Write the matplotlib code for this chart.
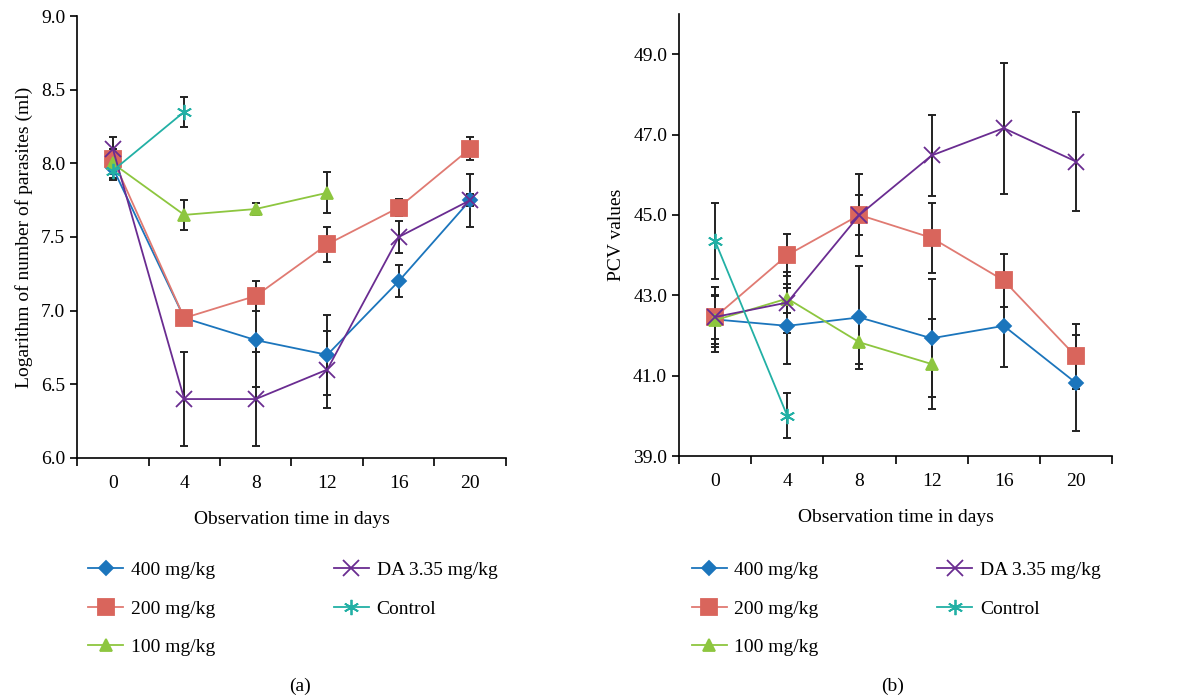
import matplotlib.pyplot as plt
import numpy as np

days = ["0", "4", "8", "12", "16", "20"]
labels = ["400 mg/kg", "200 mg/kg", "100 mg/kg", "DA 3.35 mg/kg", "Control"]

# (a) log parasite counts, mean and error
par_400 = [7.97, 6.95, 6.80, 6.70, 7.20, 7.75]
par_400_err = [0.07, 0.04, 0.32, 0.27, 0.11, 0.04]
par_200 = [8.03, 6.95, 7.10, 7.45, 7.70, 8.10]
par_200_err = [0.07, 0.04, 0.10, 0.12, 0.06, 0.08]
par_100 = [8.00, 7.65, 7.69, 7.80]
par_100_err = [0.07, 0.10, 0.04, 0.14]
par_da = [8.10, 6.40, 6.40, 6.60, 7.50, 7.75]
par_da_err = [0.08, 0.32, 0.32, 0.26, 0.11, 0.18]
par_ctrl = [7.95, 8.35]
par_ctrl_err = [0.06, 0.10]

# (b) PCV values, mean and error
pcv_400 = [42.40, 42.24, 42.45, 41.93, 42.24, 40.82]
pcv_400_err = [0.80, 0.95, 1.29, 1.47, 1.03, 1.20]
pcv_200 = [42.46, 44.00, 45.00, 44.43, 43.37, 41.48]
pcv_200_err = [0.75, 0.52, 1.03, 0.87, 0.66, 0.80]
pcv_100 = [42.38, 42.92, 41.83, 41.29]
pcv_100_err = [0.60, 0.37, 0.55, 1.12]
pcv_da = [42.46, 42.82, 45.00, 46.48, 47.16, 46.33]
pcv_da_err = [0.55, 0.77, 0.50, 1.00, 1.63, 1.23]
pcv_ctrl = [44.35, 40.00]
pcv_ctrl_err = [0.94, 0.56]

colors = ["#1b75bc", "#e07a72", "#8dc63f", "#6a2c91", "#22b0a5"]
mcolors = ["#1b75bc", "#d9655c", "#8dc63f", "#6a2c91", "#22b0a5"]
markers = ["D", "s", "^", "x", (6, 2, 0)]
msizes = [7, 11, 9, 11, 11]

plt.rcParams['font.family'] = ['Liberation Serif', 'DejaVu Serif']
plt.rcParams['font.size'] = 14

fig = plt.figure(figsize=(11.83, 6.99), dpi=100)
ax1 = fig.add_axes([0.0651, 0.3448, 0.3626, 0.6323])
ax2 = fig.add_axes([0.574, 0.3476, 0.366, 0.6323])


def draw(ax, series, errs):
    handles = []
    for i, (vals, err) in enumerate(zip(series, errs)):
        x = np.arange(len(vals))
        ax.errorbar(x, vals, yerr=err, fmt='none', ecolor='#222222',
                    elinewidth=1.4, capsize=3, capthick=1.4, zorder=2)
    for i, vals in enumerate(series):
        x = np.arange(len(vals))
        h, = ax.plot(x, vals, color=colors[i], lw=1.3, marker=markers[i],
                     ms=msizes[i], mfc=mcolors[i], mec=mcolors[i], mew=1.3,
                     zorder=3 + i, label=labels[i])
        handles.append(h)
    ax.set_xlim(-0.5, 5.5)
    ax.set_xticks(np.arange(-0.5, 6, 1))
    ax.set_xticklabels([])
    ax.set_xticks(np.arange(6), minor=True)
    ax.set_xticklabels(days, minor=True)
    ax.tick_params(axis='x', which='major', length=6, direction='out', width=1.2)
    ax.tick_params(axis='x', which='minor', length=0, pad=12)
    ax.tick_params(axis='y', length=5, direction='out', width=1.2)
    for s in ['top', 'right']:
        ax.spines[s].set_visible(False)
    for s in ['left', 'bottom']:
        ax.spines[s].set_linewidth(1.2)
    ax.set_xlabel("Observation time in days", labelpad=14)
    return handles


h1 = draw(ax1, [par_400, par_200, par_100, par_da, par_ctrl],
          [par_400_err, par_200_err, par_100_err, par_da_err, par_ctrl_err])
ax1.set_ylim(6.0, 9.0)
ax1.set_yticks(np.arange(6.0, 9.01, 0.5))
ax1.set_yticklabels([f"{v:.1f}" for v in np.arange(6.0, 9.01, 0.5)])
ax1.set_ylabel("Logarithm of number of parasites (ml)", labelpad=6)

h2 = draw(ax2, [pcv_400, pcv_200, pcv_100, pcv_da, pcv_ctrl],
          [pcv_400_err, pcv_200_err, pcv_100_err, pcv_da_err, pcv_ctrl_err])
ax2.set_ylim(39.0, 50.0)
ax2.set_yticks(np.arange(39.0, 49.01, 2.0))
ax2.set_yticklabels([f"{v:.1f}" for v in np.arange(39.0, 49.01, 2.0)])
ax2.set_ylabel("PCV values", labelpad=6)

for h, x0 in [(h1, 0.068), (h2, 0.578)]:
    fig.legend(handles=h, loc='upper left', bbox_to_anchor=(x0, 0.208),
               ncol=2, frameon=False, handlelength=1.8, handletextpad=0.4,
               columnspacing=6.1, labelspacing=1.08, borderaxespad=0)

fig.text(0.2536, 0.0186, "(a)", ha='center', va='center')
fig.text(0.7549, 0.0186, "(b)", ha='center', va='center')

fig.savefig("out.png", dpi=100)
